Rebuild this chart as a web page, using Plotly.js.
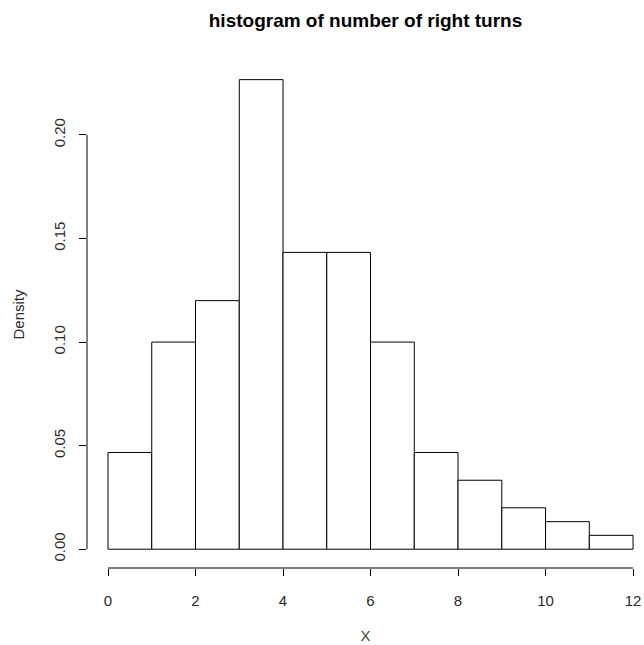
<!DOCTYPE html>
<html>
<head>
<meta charset="utf-8">
<script src="https://cdn.plot.ly/plotly-3.0.1.min.js"></script>
<style>html,body{margin:0;padding:0;background:#fff;}</style>
</head>
<body>
<div id="chart" style="width:644px;height:645px;"></div>
<script>
// Histogram bins (right turns) and densities
const binStarts = [0, 1, 2, 3, 4, 5, 6, 7, 8, 9, 10, 11];
const binWidth = 1;
const densities = [0.0467, 0.1, 0.12, 0.2267, 0.1433, 0.1433, 0.1, 0.0467, 0.0333, 0.02, 0.0133, 0.0067];
const xTicks = [0, 2, 4, 6, 8, 10, 12];
const yTicks = [0.00, 0.05, 0.10, 0.15, 0.20];
const yTickLabels = ["0.00", "0.05", "0.10", "0.15", "0.20"];

const centers = binStarts.map(s => s + binWidth / 2);
const font = 'Liberation Sans, Arial, sans-serif';

const trace = {
  type: 'bar',
  x: centers,
  y: densities,
  width: binStarts.map(() => binWidth),
  marker: {color: '#ffffff', line: {color: '#000000', width: 1}},
  hoverinfo: 'skip'
};

const layout = {
  width: 644, height: 645,
  margin: {l: 87, r: 0, t: 61, b: 77, pad: 0},
  paper_bgcolor: '#ffffff', plot_bgcolor: '#ffffff',
  showlegend: false,
  bargap: 0,
  title: {text: 'histogram of number of right turns', x: 0.5, xref: 'paper', xanchor: 'center', y: 0.969, yanchor: 'middle', yref: 'container',
    font: {family: font, size: 19, color: '#000', weight: 'bold'}},
  xaxis: {range: [-0.48, 12.25], showgrid: false, zeroline: false, showline: false,
    tickmode: 'array', tickvals: xTicks, ticktext: xTicks.map(String),
    ticks: 'outside', ticklen: 7, tickwidth: 1, tickcolor: '#000', ticklabelstandoff: 12,
    tickfont: {family: font, size: 15, color: '#2a2a2a'},
    title: {text: 'X', font: {family: font, size: 15, color: '#444'}, standoff: 22}},
  yaxis: {range: [-0.00907, 0.2357], showgrid: false, zeroline: false, showline: false,
    tickmode: 'array', tickvals: yTicks, ticktext: yTickLabels, tickangle: -90,
    ticks: 'outside', ticklen: 7, tickwidth: 1, tickcolor: '#000', ticklabelstandoff: 8,
    tickfont: {family: font, size: 15, color: '#2a2a2a'},
    title: {text: 'Density', font: {family: font, size: 15, color: '#2a2a2a'}, standoff: 22}},
  shapes: [
    {type: 'line', xref: 'x', yref: 'paper', x0: xTicks[0], x1: xTicks[xTicks.length - 1], y0: 0, y1: 0, line: {color: '#000', width: 1}},
    {type: 'line', xref: 'paper', yref: 'y', x0: 0, x1: 0, y0: yTicks[0], y1: yTicks[yTicks.length - 1], line: {color: '#000', width: 1}}
  ]
};

Plotly.newPlot('chart', [trace], layout, {displayModeBar: false, staticPlot: true});
</script>
</body>
</html>
